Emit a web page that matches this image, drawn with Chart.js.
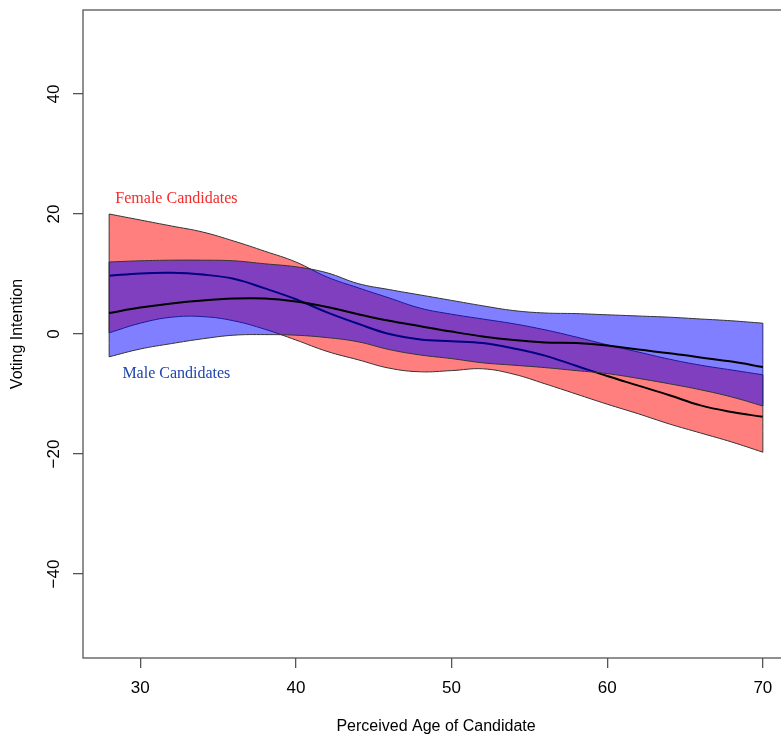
<!DOCTYPE html>
<html>
<head>
<meta charset="utf-8">
<script src="https://cdn.jsdelivr.net/npm/chart.js@4.4.1/dist/chart.umd.min.js"></script>
<style>
  html, body { margin: 0; padding: 0; background: #fff; overflow: hidden; }
  #wrap { width: 800px; height: 736px; }
</style>
</head>
<body>
<div id="wrap"><canvas id="chart"></canvas></div>
<script>
const ages = [28, 30, 32, 34, 36, 38, 40, 42, 44, 46, 48, 50, 52, 54, 56, 58, 60, 62, 64, 66, 68, 70];

const femaleUpper = [20, 19, 18, 17, 15.5, 13.8, 12, 9.5, 7.7, 6, 4.3, 3.3, 2.5, 1.7, 0.7, -0.5, -1.8, -3, -4.2, -5.2, -6, -6.8];
const femaleMean  = [9.7, 10.1, 10.2, 9.9, 9.2, 7.6, 5.8, 3.6, 1.7, 0, -0.9, -1.2, -1.5, -2.4, -3.6, -5.3, -7, -8.6, -10.2, -11.9, -13, -13.8];
const femaleLower = [0.2, 1.8, 2.8, 2.9, 2.2, 0.8, -1, -2.9, -4.3, -5.7, -6.3, -6.1, -5.8, -6.7, -8.3, -10, -11.7, -13.3, -15, -16.5, -18, -19.7];

const maleUpper = [12, 12.2, 12.3, 12.3, 12.2, 11.7, 11.2, 10.2, 8.4, 7.4, 6.5, 5.6, 4.7, 3.9, 3.5, 3.4, 3.2, 3, 2.8, 2.5, 2.2, 1.8];
const maleMean  = [3.5, 4.4, 5.1, 5.6, 5.9, 5.9, 5.4, 4.5, 3.3, 2.2, 1.3, 0.4, -0.4, -1, -1.4, -1.5, -1.9, -2.6, -3.2, -3.9, -4.6, -5.5];
const maleLower = [-3.8, -2.5, -1.6, -0.8, -0.2, -0.1, -0.2, -0.6, -1.3, -2.6, -3.5, -4.1, -4.8, -5.2, -5.6, -6.1, -6.6, -7.4, -8.3, -9.3, -10.5, -12];

const xTicks = [30, 40, 50, 60, 70];
const yTicks = [-40, -20, 0, 20, 40];

// text notes placed in data coordinates
const notes = [
  {text: 'Female Candidates', x: 28.4, y: 22.6, color: '#f52a2a'},
  {text: 'Male Candidates', x: 28.85, y: -6.6, color: '#1f45aa'}
];

function pts(arr) {
  return ages.map((a, i) => ({x: a, y: arr[i]}));
}
function endLine(upper, lower, i) {
  return [{x: ages[i], y: upper[i]}, {x: ages[i], y: lower[i]}];
}

const thin = {borderColor: '#333', borderWidth: 1, pointRadius: 0, fill: false, tension: 0.4};
const thick = {borderColor: '#000', borderWidth: 2, pointRadius: 0, fill: false, tension: 0.4};
const last = ages.length - 1;

// dataset 0 ends up on top
const datasets = [
  Object.assign({}, thick, {data: pts(maleMean)}),
  Object.assign({}, thin, {data: pts(maleLower)}),
  Object.assign({}, thin, {data: pts(maleUpper), fill: '-1', backgroundColor: 'rgba(0,0,255,0.5)'}),
  Object.assign({}, thin, {data: endLine(maleUpper, maleLower, 0)}),
  Object.assign({}, thin, {data: endLine(maleUpper, maleLower, last)}),
  Object.assign({}, thin, {data: endLine(femaleUpper, femaleLower, 0)}),
  Object.assign({}, thin, {data: endLine(femaleUpper, femaleLower, last)}),
  Object.assign({}, thick, {data: pts(femaleMean)}),
  Object.assign({}, thin, {data: pts(femaleLower)}),
  Object.assign({}, thin, {data: pts(femaleUpper), fill: '-1', backgroundColor: 'rgba(255,0,0,0.5)'})
];

const rStyle = {
  id: 'rStyle',
  afterDraw(chart) {
    const {ctx, chartArea: a, scales: {x, y}} = chart;
    ctx.save();
    ctx.strokeStyle = '#555';
    ctx.lineWidth = 1.3;
    ctx.strokeRect(a.left, a.top, a.right - a.left, a.bottom - a.top);

    ctx.fillStyle = '#000';
    ctx.font = '17px "Liberation Sans", Arial, sans-serif';
    ctx.textAlign = 'center';
    ctx.textBaseline = 'middle';
    xTicks.forEach(v => ctx.fillText(String(v), x.getPixelForValue(v), 688));
    yTicks.forEach(v => {
      ctx.save();
      ctx.translate(54.5, y.getPixelForValue(v));
      ctx.rotate(-Math.PI / 2);
      ctx.fillText(String(v).replace('-', '\u2212'), 0, 0);
      ctx.restore();
    });

    ctx.font = '16px "Liberation Sans", Arial, sans-serif';
    ctx.fillText('Perceived Age of Candidate', (a.left + a.right) / 2, 727);
    ctx.save();
    ctx.translate(18, (a.top + a.bottom) / 2);
    ctx.rotate(-Math.PI / 2);
    ctx.fillText('Voting Intention', 0, 0);
    ctx.restore();

    ctx.font = '16px "Liberation Serif", "Times New Roman", serif';
    ctx.textAlign = 'left';
    notes.forEach(n => {
      ctx.fillStyle = n.color;
      ctx.fillText(n.text, x.getPixelForValue(n.x), y.getPixelForValue(n.y));
    });
    ctx.restore();
  }
};

new Chart(document.getElementById('chart'), {
  type: 'line',
  data: {datasets: datasets},
  options: {
    responsive: true,
    maintainAspectRatio: false,
    animation: false,
    events: [],
    layout: {padding: {top: 10, right: 11, left: 0, bottom: 0}},
    plugins: {legend: {display: false}, tooltip: {enabled: false}},
    scales: {
      x: {
        type: 'linear',
        min: 26.32,
        max: 71.68,
        afterBuildTicks: s => { s.ticks = xTicks.map(v => ({value: v})); },
        afterFit: s => { s.height = 78; },
        ticks: {display: false},
        border: {display: false},
        grid: {drawOnChartArea: false, drawTicks: true, tickLength: 10, color: '#555', lineWidth: 1.3}
      },
      y: {
        min: -54,
        max: 54,
        afterBuildTicks: s => { s.ticks = yTicks.map(v => ({value: v})); },
        afterFit: s => { s.width = 83; },
        ticks: {display: false},
        border: {display: false},
        grid: {drawOnChartArea: false, drawTicks: true, tickLength: 10, color: '#555', lineWidth: 1.3}
      }
    }
  },
  plugins: [rStyle]
});
</script>
</body>
</html>
